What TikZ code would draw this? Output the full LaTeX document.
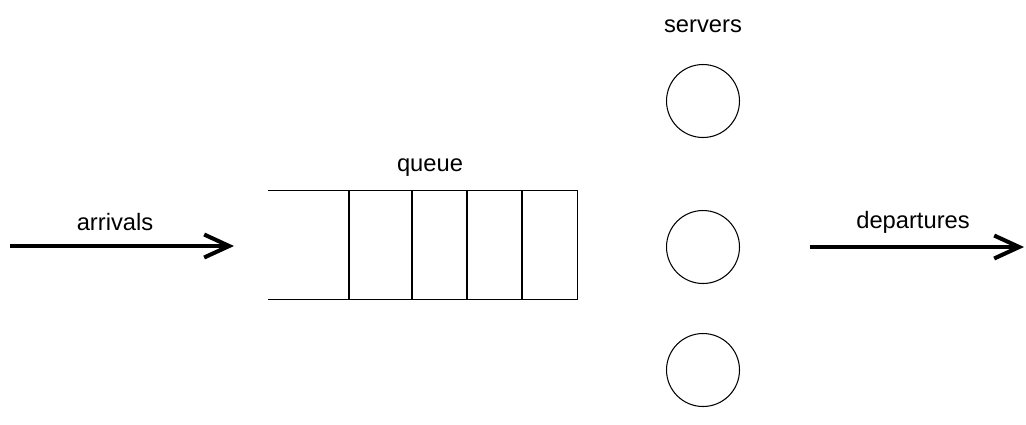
\documentclass[tikz,border=0pt]{standalone}
\usepackage{fontspec}
\setmainfont{Liberation Sans}
\usetikzlibrary{arrows.meta, positioning, calc}

\tikzset{
	lbl/.style={font=\fontsize{13.5}{16}\selectfont, inner sep=1pt},
	flow/.style={line width=2.3pt, -{Straight Barb[length=5mm, width=4.6mm, line width=2.3pt]}},
	server/.style={draw, circle, line width=0.6pt, minimum size=1.46cm, inner sep=0pt},
	cell/.style={line width=0.9pt}
}

\begin{document}
\begin{tikzpicture}[x=0.02cm, y=-0.02cm]
	
	% Cornice
	\useasboundingbox (0,0) rectangle (1026,424);
	
	% Arrivi
	\coordinate (arrS) at (10,246);
	\coordinate (arrE) at (234,246);
	\draw[flow] (arrS) -- (arrE);
	\node[lbl] (arrivals) at (115,222) {arrivals};
	
	% Coda
	\node[minimum width=6.18cm, minimum height=2.16cm, inner sep=0pt] (queue) at (422.5,245) {};
	\node[lbl] (queuelbl) at (430,168) {queue};
	\draw[cell] (queue.north west) -- (queue.north east) -- (queue.south east) -- (queue.south west);
	\foreach \xx in {349,412,467,522}
		\draw[cell] (\xx,191) -- (\xx,299);
	
	% Serventi
	\node[lbl] (servers) at (703,26) {servers};
	\node[server] (s1) at (703,101) {};
	\node[server] (s2) at (703,247) {};
	\node[server] (s3) at (703,370) {};
	
	% Partenze
	\coordinate (depS) at (810,247);
	\coordinate (depE) at (1024,247);
	\draw[flow] (depS) -- (depE);
	\node[lbl] (departures) at (913,222) {departures};
	
\end{tikzpicture}
\end{document}
